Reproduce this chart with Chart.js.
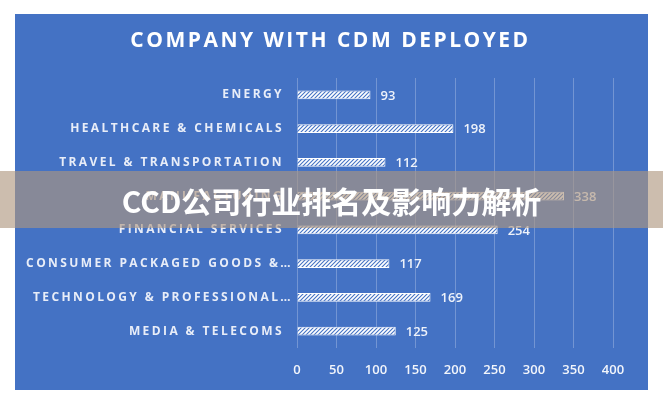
<!DOCTYPE html>
<html>
<head>
<meta charset="utf-8">
<script src="https://cdn.jsdelivr.net/npm/chart.js@4.4.1/dist/chart.umd.min.js"></script>
<style>
  body { margin: 0; background: #fff; width: 663px; height: 400px; position: relative; overflow: hidden; }
  #panel { position: absolute; left: 15px; top: 14px; width: 633px; height: 376px; background: #4472c4; }
  #banner {
    position: absolute; left: 0; top: 171px; width: 663px; height: 57px;
    background: rgba(175, 151, 127, 0.63);
    color: #fff; font: bold 30px "Noto Sans CJK SC", sans-serif;
    display: flex; align-items: center; justify-content: center;
  }
</style>
</head>
<body>
<div id="panel"><canvas id="cdmChart" width="633" height="376"></canvas></div>
<div id="banner">CCD公司行业排名及影响力解析</div>
<script>
const chartTitle = 'COMPANY WITH CDM DEPLOYED';
const categories = [
  'ENERGY',
  'HEALTHCARE & CHEMICALS',
  'TRAVEL & TRANSPORTATION',
  'MANUFACTURING',
  'FINANCIAL SERVICES',
  'CONSUMER PACKAGED GOODS &…',
  'TECHNOLOGY & PROFESSIONAL…',
  'MEDIA & TELECOMS'
];
const companies = [93, 198, 112, 338, 254, 117, 169, 125];
const xTickValues = [0, 50, 100, 150, 200, 250, 300, 350, 400];

const panelBlue = '#4472c4';

function makeHatch() {
  const size = 4;
  const c = document.createElement('canvas');
  c.width = size;
  c.height = size;
  const g = c.getContext('2d');
  g.fillStyle = '#ffffff';
  g.fillRect(0, 0, size, size);
  g.strokeStyle = panelBlue;
  g.lineWidth = 1.1;
  g.beginPath();
  g.moveTo(0, size); g.lineTo(size, 0);
  g.moveTo(-1, 1); g.lineTo(1, -1);
  g.moveTo(size - 1, size + 1); g.lineTo(size + 1, size - 1);
  g.stroke();
  return g.createPattern(c, 'repeat');
}

// title, category labels and value labels (letter-spaced like the original)
const textPlugin = {
  id: 'textPlugin',
  afterDraw(chart) {
    const ctx = chart.ctx;
    const x = chart.scales.x;
    const y = chart.scales.y;
    ctx.save();
    ctx.textBaseline = 'middle';

    ctx.letterSpacing = '2.5px';
    ctx.font = 'bold 21px "Open Sans"';
    ctx.fillStyle = '#ffffff';
    ctx.textAlign = 'center';
    ctx.fillText(chartTitle, chart.width / 2 - 1, 27);

    ctx.letterSpacing = '2.4px';
    ctx.font = 'bold 12px "Open Sans"';
    ctx.fillStyle = '#e8edf8';
    ctx.textAlign = 'right';
    categories.forEach((c, i) => {
      // truncated labels run right up to the axis
      const gap = c.endsWith('…') ? 4 : 13;
      ctx.fillText(c, x.left - gap, y.getPixelForValue(i));
    });

    ctx.letterSpacing = '0px';
    ctx.font = '600 13px "Open Sans"';
    ctx.fillStyle = '#eef2fa';
    ctx.textAlign = 'left';
    companies.forEach((v, i) => {
      ctx.fillText(String(v), x.getPixelForValue(v) + 10, y.getPixelForValue(i) + 1);
    });
    ctx.restore();
  }
};

const ctx = document.getElementById('cdmChart').getContext('2d');
new Chart(ctx, {
  type: 'bar',
  data: {
    labels: categories,
    datasets: [{
      data: companies,
      backgroundColor: makeHatch(),
      borderColor: '#ffffff',
      borderWidth: 1,
      barPercentage: 0.9,
      categoryPercentage: 0.28
    }]
  },
  options: {
    indexAxis: 'y',
    responsive: false,
    animation: false,
    devicePixelRatio: 1,
    layout: { padding: { top: 64, right: 35, bottom: 12, left: 0 } },
    plugins: {
      legend: { display: false },
      title: { display: false },
      tooltip: { enabled: false }
    },
    scales: {
      x: {
        min: 0,
        max: 400,
        afterBuildTicks: scale => { scale.ticks = xTickValues.map(v => ({ value: v })); },
        afterFit: scale => { scale.height = 30; },
        grid: { color: 'rgba(255,255,255,0.25)', drawTicks: false },
        border: { display: false },
        ticks: {
          color: '#f2f5fb',
          padding: 14,
          font: { family: 'Open Sans', size: 13, weight: '600' }
        }
      },
      y: {
        grid: { display: false },
        border: { display: false },
        ticks: { display: false },
        afterFit: scale => { scale.width = 282; }
      }
    }
  },
  plugins: [textPlugin]
});
</script>
</body>
</html>
